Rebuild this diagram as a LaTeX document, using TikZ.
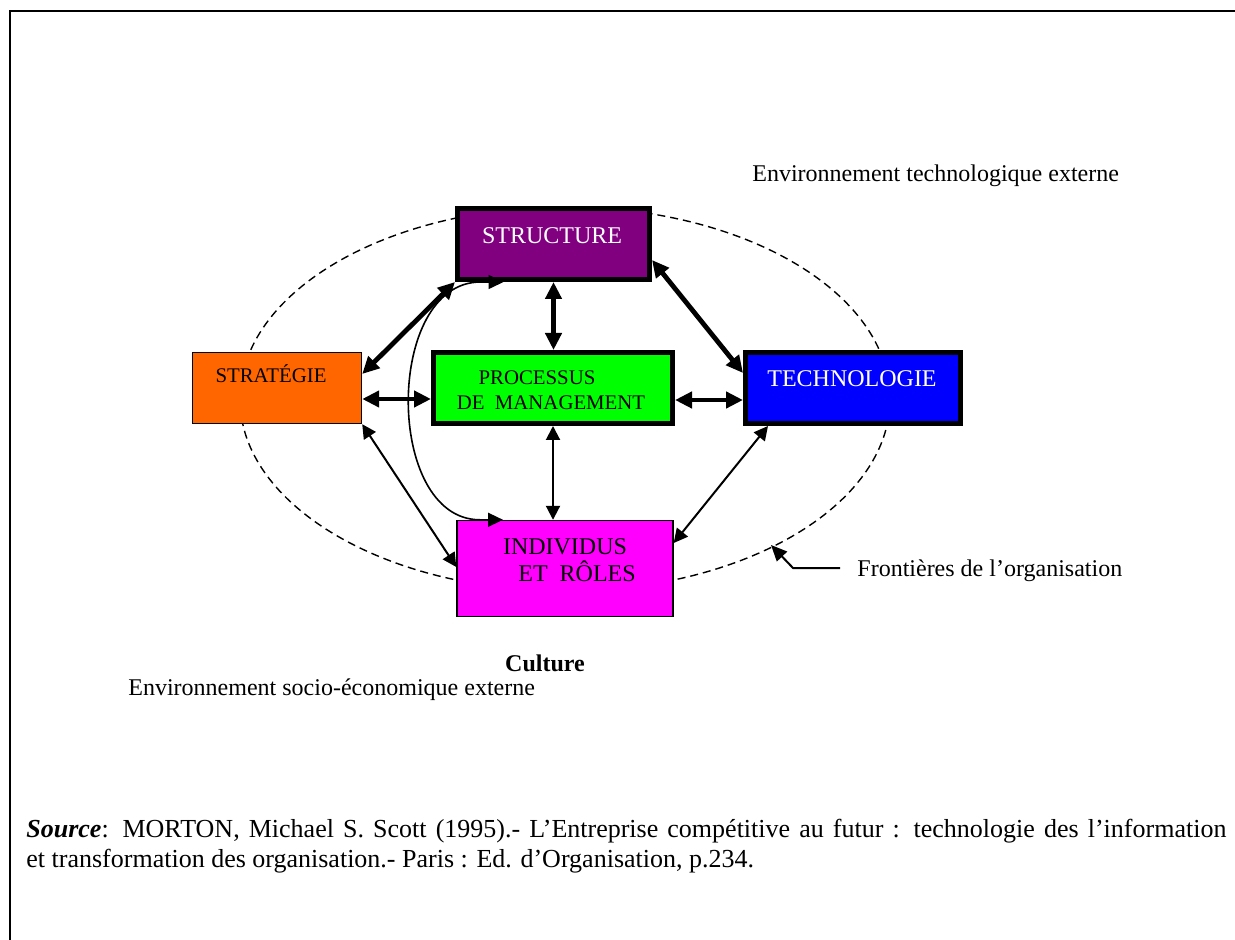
\documentclass[tikz,border=0pt]{standalone}
\usepackage{fontspec}
\setmainfont{Liberation Serif}
\usetikzlibrary{arrows.meta}
\definecolor{structpurple}{HTML}{800080}
\definecolor{stratorange}{HTML}{FF6600}
\definecolor{procgreen}{HTML}{00FF00}
\definecolor{techblue}{HTML}{0000FF}
\definecolor{indmagenta}{HTML}{FF00FF}

\begin{document}
\begin{tikzpicture}[x=0.5pt,y=-0.5pt,
  every node/.style={font=\fontsize{12}{14}\selectfont},
  box/.style={draw=black, rectangle, inner sep=0pt, minimum height=35.5pt},
  heavybox/.style={box, line width=2.5pt},
  lightbox/.style={box, line width=0.7pt},
  boxtext/.style={anchor=base, inner sep=0pt},
  smalltext/.style={font=\fontsize{10.4}{12}\selectfont},
  strong/.style={line width=2.4pt, {Triangle[length=8.5pt,width=8pt]}-{Triangle[length=8.5pt,width=8pt]}},
  light/.style={line width=1pt, {Triangle[length=7pt,width=7pt]}-{Triangle[length=7pt,width=7pt]}},
  loop/.style={line width=0.8pt, {Triangle[length=7.5pt,width=7pt]}-{Triangle[length=7.5pt,width=7pt]}},
  boundary/.style={line width=0.7pt, dash pattern=on 4pt off 2.5pt},
  note/.style={anchor=base west, inner sep=0pt},
  sourcetext/.style={note, font=\fontsize{13}{15}\selectfont}]

\useasboundingbox (0,0) rectangle (1235,940);

% page frame
\draw[line width=1pt] (10,940) -- (10,11) -- (1235,11);

% organisation boundary
\draw[boundary] (565,399) ellipse [x radius=162.5pt, y radius=96pt];

% the five components
\node[heavybox, fill=structpurple, minimum width=96pt] (structure) at (553.5,244) {};
\node[lightbox, fill=stratorange, minimum width=84.5pt] (strategie) at (277,388) {};
\node[heavybox, fill=procgreen, minimum width=119.5pt] (processus) at (553,388) {};
\node[heavybox, fill=techblue, minimum width=107.5pt] (technologie) at (853,388) {};
\node[lightbox, fill=indmagenta, minimum width=108pt, minimum height=48pt] (individus) at (565,568.5) {};

\node[boxtext, text=white] (structurelabel) at (552,244) {STRUCTURE};
\node[boxtext, smalltext] (strategielabel) at (271,383) {STRATÉGIE};
\node[boxtext, smalltext] (processuslabel) at (537,385) {PROCESSUS};
\node[boxtext, smalltext] (managementlabel) at (551,410) {DE\ \ MANAGEMENT};
\node[boxtext, text=white] (technologielabel) at (852,387) {TECHNOLOGIE};
\node[boxtext] (individuslabel) at (565,554) {INDIVIDUS};
\node[boxtext] (roleslabel) at (577,581) {ET\ \ RÔLES};

% links between components
\draw[strong] (structure.south west) -- ([yshift=7pt]strategie.east);
\draw[strong] (structure.south) -- (structure.south |- processus.north);
\draw[strong] ([yshift=-8pt]structure.east) -- ([yshift=7.5pt]technologie.west);
\draw[strong] ([yshift=-5.5pt]strategie.east) -- ([yshift=-5.5pt]processus.west);
\draw[strong] ([yshift=-6pt]processus.east) -- ([yshift=-6pt]technologie.west);
\draw[light] (processus.south) -- (processus.south |- individus.north);
\draw[light] (strategie.south east) -- ([yshift=0.75pt]individus.west);
\draw[light] ([xshift=12.5pt]technologie.south west) -- ([yshift=12.75pt]individus.east);
\draw[loop]
  ([xshift=-25pt]structure.south) -- ++(-23,0)
  .. controls +(-96,0) and +(-96,0) .. ([xshift=-42.5pt]individus.north)
  -- ([xshift=-31pt]individus.north);

% surrounding labels
\node[note] (techenv) at (752,182) {Environnement technologique externe};
\node[note] (frontieres) at (857,576) {Frontières de l’organisation};
\coordinate (frontierestip) at (771,545);
\draw[line width=1pt, -{Triangle[length=8pt,width=7pt]}]
  ([xshift=-8.5pt,yshift=4pt]frontieres.base west) -- ++(-47,0) -- (frontierestip);
\node[anchor=base, inner sep=0pt, font=\fontsize{12}{14}\selectfont\bfseries] (culture) at (545,671) {Culture};
\node[note] (socioenv) at (128,695) {Environnement socio-économique externe};
\node[sourcetext] (sourceA) at (26,837) {\makebox[600pt][s]{\textbf{\textit{Source}}: MORTON, Michael S. Scott (1995).- L’Entreprise compétitive au futur : technologie des l’information}};
\node[sourcetext] (sourceB) at (26,867) {et transformation des organisation.- Paris : Ed. d’Organisation, p.234.};
\end{tikzpicture}
\end{document}
